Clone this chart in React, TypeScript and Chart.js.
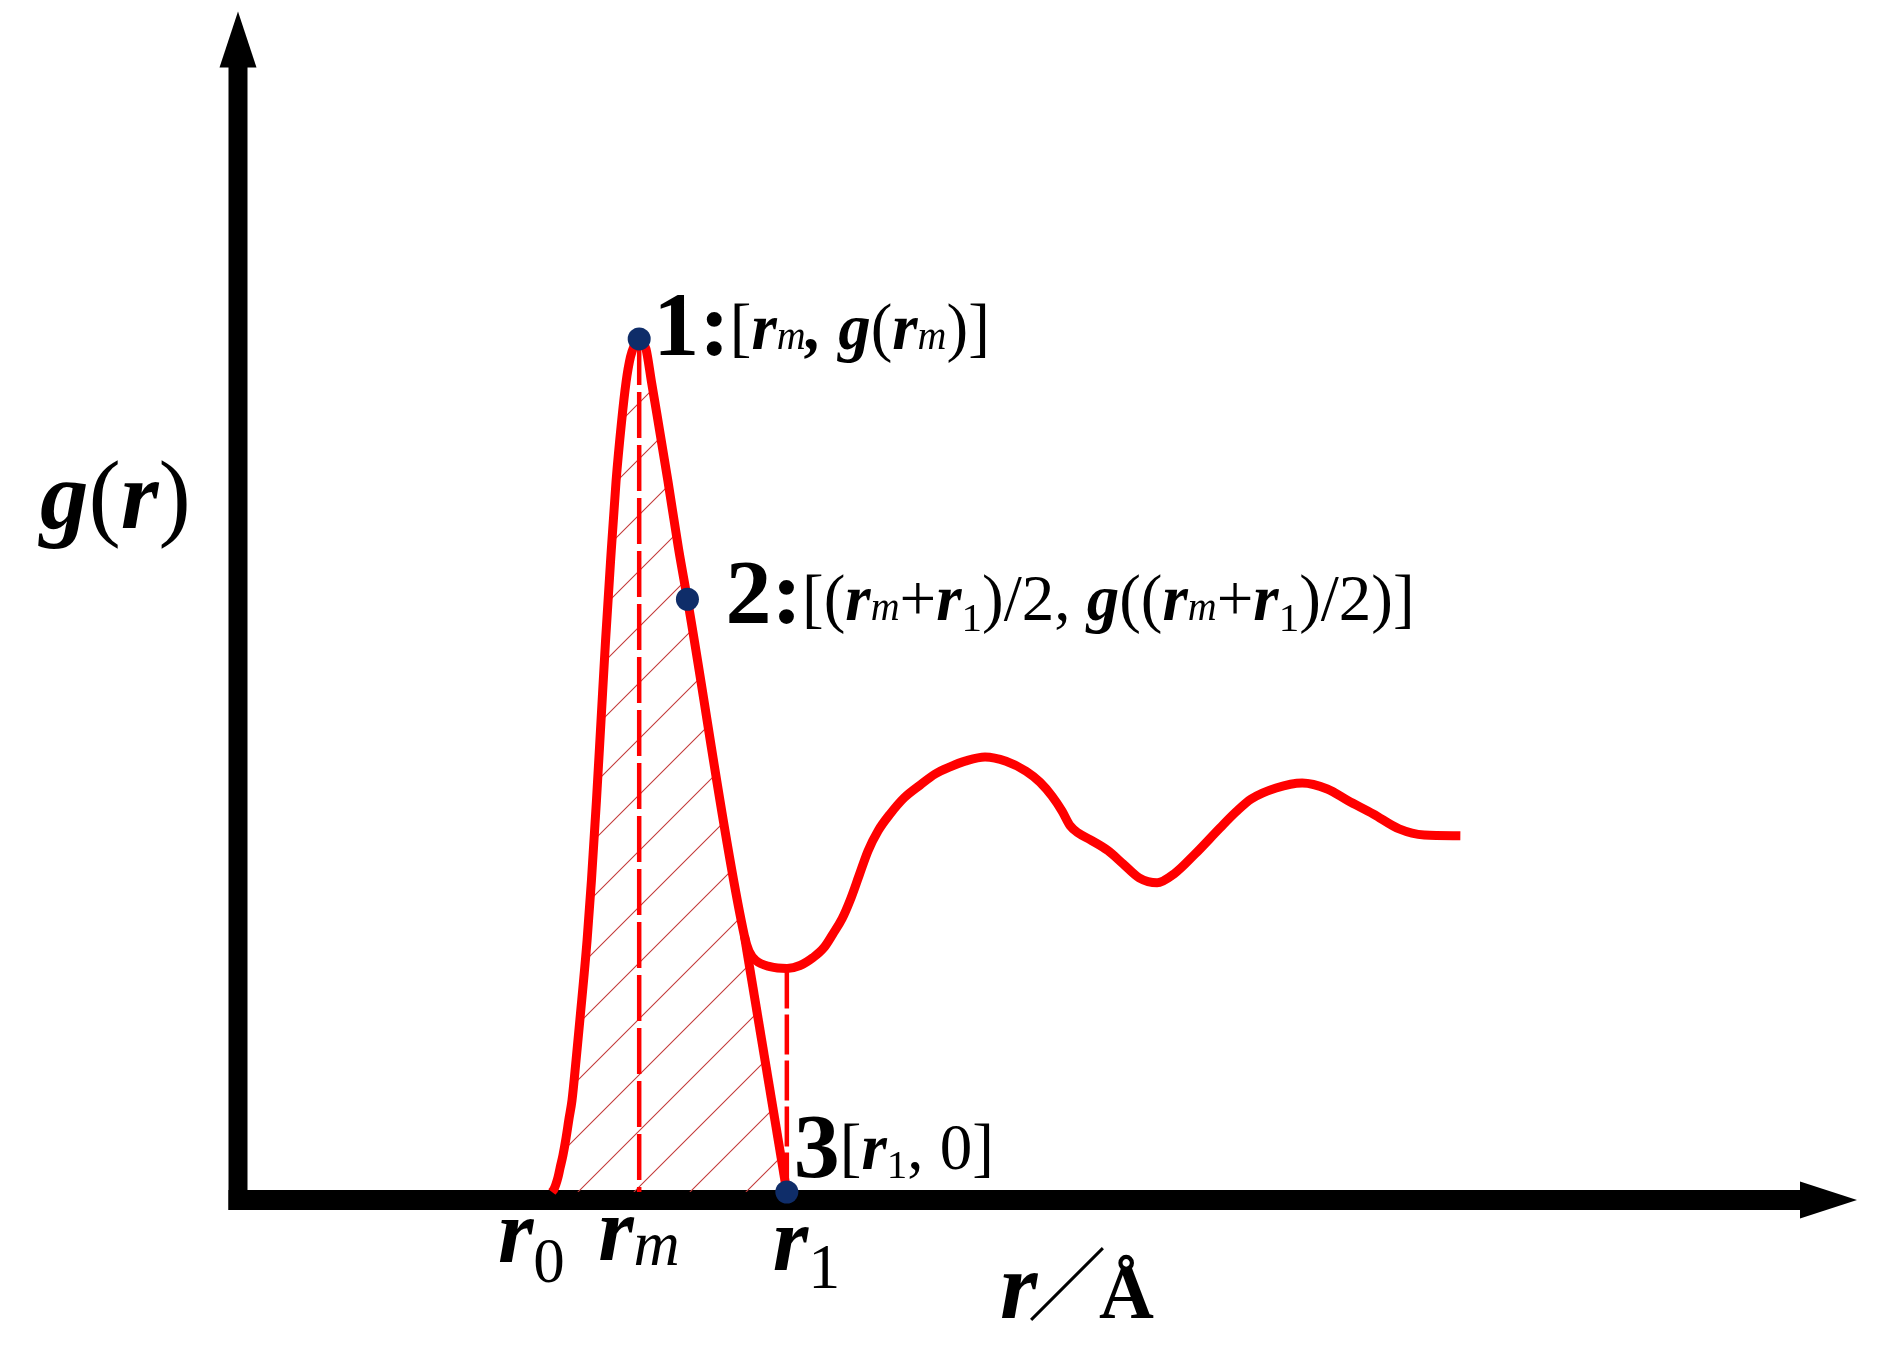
import React, { useEffect, useRef } from "react";
import { Chart, registerables } from "chart.js";

Chart.register(...registerables);

// ---- data (r in Å, g(r) dimensionless) ----
const R0 = 1.939;
const RM = 2.478;
const R1 = 3.39;

// first peak: rising side, maximum, falling side down to the point where the line to r1 leaves the curve
const peakR = [1.939, 1.952, 1.964, 1.977, 1.989, 2.007, 2.026, 2.044, 2.063, 2.088, 2.112, 2.156, 2.183, 2.214, 2.242, 2.27, 2.301, 2.335, 2.369, 2.397, 2.424, 2.449, 2.464, 2.478, 2.495, 2.52, 2.554, 2.588, 2.656, 2.721, 2.776, 3.128];
const peakG = [0, 0.008, 0.022, 0.042, 0.067, 0.103, 0.151, 0.204, 0.257, 0.369, 0.484, 0.705, 0.873, 1.097, 1.32, 1.544, 1.768, 1.992, 2.159, 2.271, 2.341, 2.375, 2.386, 2.392, 2.383, 2.364, 2.271, 2.179, 1.992, 1.804, 1.662, 0.718];
// second and third shells
const shellR = [3.156, 3.199, 3.286, 3.391, 3.471, 3.551, 3.619, 3.675, 3.731, 3.78, 3.836, 3.892, 3.954, 4.028, 4.114, 4.213, 4.306, 4.398, 4.491, 4.614, 4.744, 4.868, 4.954, 5.028, 5.09, 5.14, 5.189, 5.263, 5.374, 5.467, 5.566, 5.677, 5.782, 5.912, 6.066, 6.165, 6.258, 6.412, 6.573, 6.728, 6.857, 7.012, 7.172, 7.327, 7.55];
const shellG = [0.676, 0.649, 0.632, 0.627, 0.635, 0.657, 0.685, 0.724, 0.766, 0.817, 0.887, 0.957, 1.013, 1.06, 1.105, 1.141, 1.172, 1.192, 1.208, 1.22, 1.208, 1.18, 1.149, 1.11, 1.068, 1.027, 1.007, 0.988, 0.957, 0.92, 0.881, 0.867, 0.892, 0.948, 1.021, 1.066, 1.102, 1.133, 1.147, 1.13, 1.097, 1.06, 1.018, 1.001, 0.999];

// straight extrapolation of the falling side to the axis (r1, 0)
const extrapR = [3.128, R1];
const extrapG = [0.718, 0];

const keyR = [RM, 2.776, R1];
const keyG = [2.392, 1.662, 0];

const rmLineR = [RM, RM];
const rmLineG = [2.392, 0];
const r1LineR = [R1, R1];
const r1LineG = [0.627, 0];

const xRange = [0, 10];
const yRange = [0, 3.31];

// ---- text ----
const yTitle = ["g", "(", "r", ")"];
const xTitle = ["r", "／", "Å"];
const tickText = [["r", "0"], ["r", "m"], ["r", "1"]];
const label1Text = ["1", ":", "[", "r", "m", ", ", "g", "(", "r", "m", ")", "]"];
const label2Text = ["2", ":", "[(", "r", "m", "+", "r", "1", ")/2, ", "g", "((", "r", "m", "+", "r", "1", ")/2)]"];
const label3Text = ["3", "[", "r", "1", ", 0]"];

const FAM = '"Liberation Serif", "Times New Roman", serif';
const BI = (s: number) => `italic bold ${s}px ${FAM}`;
const IT = (s: number) => `italic ${s}px ${FAM}`;
const BD = (s: number) => `bold ${s}px ${FAM}`;
const NR = (s: number) => `${s}px ${FAM}`;

type Run = { t: string; f: string; dy?: number };

const pts = (xs: number[], ys: number[]) => xs.map((v, i) => ({ x: v, y: ys[i] }));

function drawRuns(ctx: CanvasRenderingContext2D, x: number, y: number, list: Run[]) {
  for (const r of list) {
    ctx.font = r.f;
    ctx.fillText(r.t, x, y + (r.dy ?? 0));
    x += ctx.measureText(r.t).width;
  }
}

const axesPlugin = {
  id: "arrowAxes",
  beforeDatasetsDraw(chart: any) {
    const { ctx, scales } = chart;
    const x = scales.x, y = scales.y;
    const x0 = x.getPixelForValue(xRange[0]);
    const y0 = y.getPixelForValue(yRange[0]);
    const xTip = x.getPixelForValue(xRange[1]);
    const yTip = y.getPixelForValue(yRange[1]);
    const axisY = y0 + 8;
    ctx.save();
    ctx.fillStyle = "#000";
    ctx.fillRect(x0 - 9.5, yTip + 55, 19, axisY + 10 - (yTip + 55));
    ctx.fillRect(x0 - 9.5, axisY - 10, xTip - 57 - (x0 - 9.5), 20);
    ctx.beginPath();
    ctx.moveTo(x0, yTip);
    ctx.lineTo(x0 + 18.5, yTip + 56);
    ctx.lineTo(x0 - 18.5, yTip + 56);
    ctx.closePath();
    ctx.fill();
    ctx.beginPath();
    ctx.moveTo(xTip, axisY);
    ctx.lineTo(xTip - 57, axisY - 18.5);
    ctx.lineTo(xTip - 57, axisY + 18.5);
    ctx.closePath();
    ctx.fill();
    ctx.restore();
  },
};

const SM = 65; // bracket text size
const SS = 40; // m size
const SB = 41; // subscript 1 size

const labelsPlugin = {
  id: "schematicLabels",
  afterDatasetsDraw(chart: any) {
    const { ctx, scales } = chart;
    const px = (v: number) => scales.x.getPixelForValue(v);
    const py = (v: number) => scales.y.getPixelForValue(v);
    const x0 = px(0);
    const y0 = py(0);
    ctx.save();
    ctx.fillStyle = "#000";
    ctx.textAlign = "left";
    ctx.textBaseline = "alphabetic";

    // y title g(r)
    drawRuns(ctx, x0 - 198, y0 - 664, [
      { t: yTitle[0], f: BI(97) },
      { t: yTitle[1], f: NR(97) },
      { t: yTitle[2], f: BI(97) },
      { t: yTitle[3], f: NR(97) },
    ]);

    // x title r／Å
    ctx.font = BI(96);
    ctx.fillText(xTitle[0], x0 + 762, y0 + 126);
    ctx.font = `300 80px "Noto Sans CJK SC", sans-serif`;
    ctx.textAlign = "center";
    ctx.fillText(xTitle[1], x0 + 829, y0 + 122);
    ctx.textAlign = "left";
    ctx.font = BD(76);
    ctx.fillText(xTitle[2], x0 + 861, y0 + 126);

    // tick marks r0, rm, r1
    drawRuns(ctx, px(R0) - 54, y0 + 70, [
      { t: tickText[0][0], f: BI(91) },
      { t: tickText[0][1], f: NR(63), dy: 20 },
    ]);
    drawRuns(ctx, px(RM) - 41, y0 + 68, [
      { t: tickText[1][0], f: BI(91) },
      { t: tickText[1][1], f: IT(64), dy: 5 },
    ]);
    drawRuns(ctx, px(R1) - 14, y0 + 78, [
      { t: tickText[2][0], f: BI(91) },
      { t: tickText[2][1], f: NR(64), dy: 18 },
    ]);

    // point labels
    const L = label1Text;
    drawRuns(ctx, px(keyR[0]) + 14, py(keyG[0]) + 16, [
      { t: L[0], f: BD(92) },
      { t: L[1], f: BD(92) },
      { t: L[2], f: NR(SM), dy: -6 },
      { t: L[3], f: BI(SM), dy: -6 },
      { t: L[4], f: IT(SS), dy: -6 },
      { t: L[5], f: BI(SM), dy: -6 },
      { t: L[6], f: BI(SM), dy: -6 },
      { t: L[7], f: NR(SM), dy: -6 },
      { t: L[8], f: BI(SM), dy: -6 },
      { t: L[9], f: IT(SS), dy: -6 },
      { t: L[10], f: NR(SM), dy: -6 },
      { t: L[11], f: NR(SM), dy: -6 },
    ]);
    const M = label2Text;
    drawRuns(ctx, px(keyR[1]) + 38, py(keyG[1]) + 24, [
      { t: M[0], f: BD(92) },
      { t: M[1], f: BD(92) },
      { t: M[2], f: NR(SM), dy: -3 },
      { t: M[3], f: BI(SM), dy: -3 },
      { t: M[4], f: IT(SS), dy: -3 },
      { t: M[5], f: NR(SM), dy: -3 },
      { t: M[6], f: BI(SM), dy: -3 },
      { t: M[7], f: NR(SB), dy: 8 },
      { t: M[8], f: NR(SM), dy: -3 },
      { t: M[9], f: BI(SM), dy: -3 },
      { t: M[10], f: NR(SM), dy: -3 },
      { t: M[11], f: BI(SM), dy: -3 },
      { t: M[12], f: IT(SS), dy: -3 },
      { t: M[13], f: NR(SM), dy: -3 },
      { t: M[14], f: BI(SM), dy: -3 },
      { t: M[15], f: NR(SB), dy: 8 },
      { t: M[16], f: NR(SM), dy: -3 },
    ]);
    const N = label3Text;
    drawRuns(ctx, px(keyR[2]) + 7, py(keyG[2]) - 15, [
      { t: N[0], f: BD(92) },
      { t: N[1], f: NR(SM), dy: -8 },
      { t: N[2], f: BI(SM), dy: -8 },
      { t: N[3], f: NR(SB), dy: 1 },
      { t: N[4], f: NR(SM), dy: -8 },
    ]);
    ctx.restore();
  },
};

export default function App() {
  const ref = useRef<HTMLCanvasElement>(null);

  useEffect(() => {
    const canvas = ref.current!;
    const tile = document.createElement("canvas");
    tile.width = 56;
    tile.height = 56;
    const tc = tile.getContext("2d")!;
    tc.strokeStyle = "#c43c3c";
    tc.lineWidth = 1.1;
    tc.beginPath();
    tc.moveTo(-3, 37);
    tc.lineTo(37, -3);
    tc.moveTo(31, 59);
    tc.lineTo(59, 31);
    tc.stroke();
    const pattern = canvas.getContext("2d")!.createPattern(tile, "repeat");

    const red = "#ff0000";
    const lw = 9;
    const chart = new Chart(canvas, {
      type: "scatter",
      data: {
        datasets: [
          {
            label: "key points",
            data: pts(keyR, keyG),
            showLine: false,
            pointRadius: 11.5,
            pointHoverRadius: 11.5,
            pointBackgroundColor: "#0f2d69",
            pointBorderWidth: 0,
            order: 0,
            clip: false,
          } as any,
          {
            label: "g(r)",
            data: [...pts(peakR, peakG), ...pts(shellR, shellG)],
            showLine: true,
            borderColor: red,
            borderWidth: lw,
            pointRadius: 0,
            cubicInterpolationMode: "monotone",
            borderJoinStyle: "round",
            fill: false,
            order: 1,
            clip: false,
          },
          {
            label: "extrapolation",
            data: pts(extrapR, extrapG),
            showLine: true,
            borderColor: red,
            borderWidth: lw,
            pointRadius: 0,
            tension: 0,
            fill: false,
            order: 2,
            clip: false,
          },
          {
            label: "rm",
            data: pts(rmLineR, rmLineG),
            showLine: true,
            borderColor: red,
            borderWidth: 4.5,
            borderDash: [46, 7],
            pointRadius: 0,
            fill: false,
            order: 3,
            clip: false,
          },
          {
            label: "r1",
            data: pts(r1LineR, r1LineG),
            showLine: true,
            borderColor: red,
            borderWidth: 4.5,
            borderDash: [40, 6],
            pointRadius: 0,
            fill: false,
            order: 3,
            clip: false,
          },
          {
            label: "hatch",
            data: [...pts(peakR, peakG), { x: R1, y: 0 }],
            showLine: true,
            borderWidth: 0,
            borderColor: "rgba(0,0,0,0)",
            backgroundColor: pattern as any,
            pointRadius: 0,
            cubicInterpolationMode: "monotone",
            fill: "origin",
            order: 5,
            clip: false,
          },
        ],
      },
      options: {
        animation: false,
        responsive: false,
        events: [],
        layout: { padding: { left: 238, right: 39, top: 8.675, bottom: 162 } },
        plugins: { legend: { display: false }, tooltip: { enabled: false } },
        scales: {
          x: { type: "linear", min: xRange[0], max: xRange[1], display: false },
          y: { type: "linear", min: yRange[0], max: yRange[1], display: false },
        },
      },
      plugins: [axesPlugin, labelsPlugin],
    });
    return () => chart.destroy();
  }, []);

  return (
    <div style={{ position: "fixed", left: 0, top: 0, width: 1896, height: 1354, background: "#fff" }}>
      <canvas ref={ref} width={1896} height={1354} style={{ display: "block" }} />
    </div>
  );
}
